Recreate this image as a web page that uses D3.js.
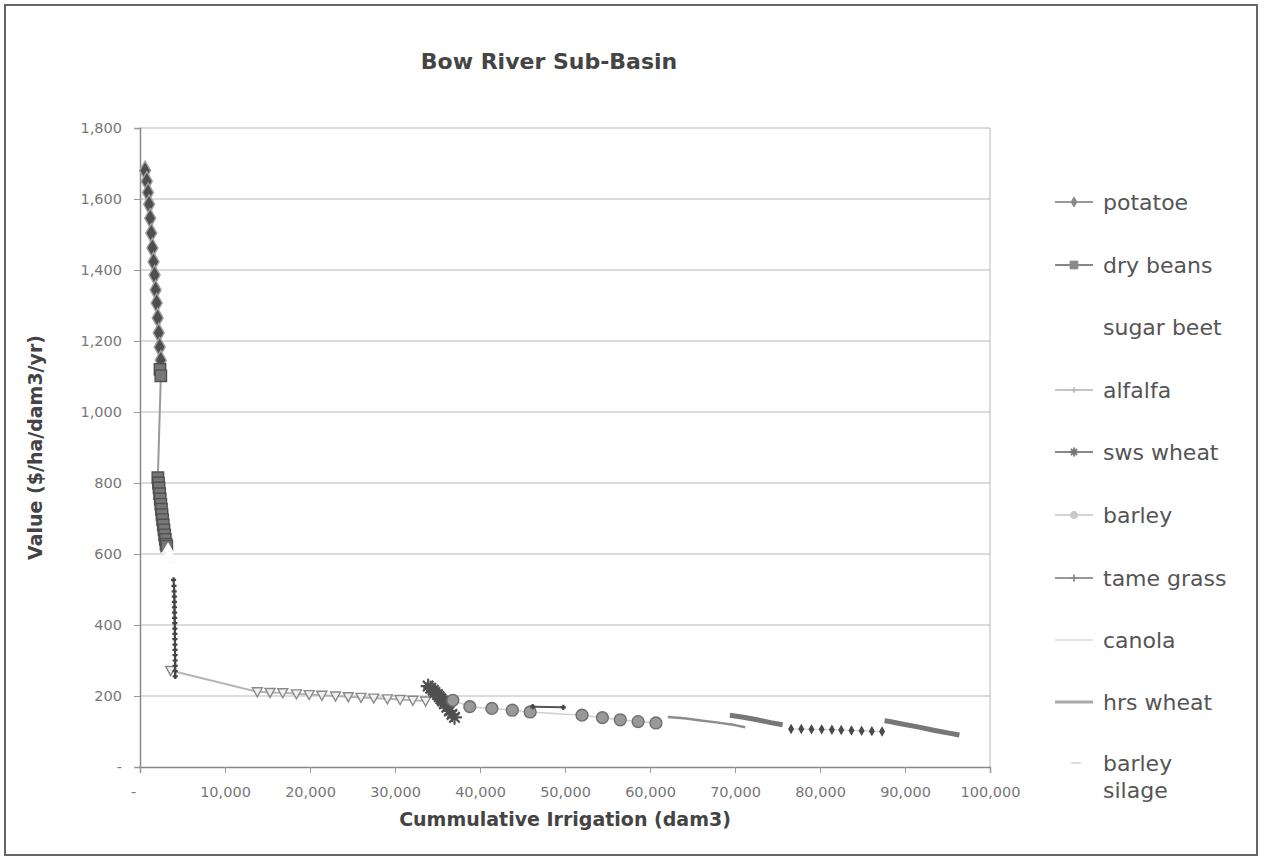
<!DOCTYPE html>
<html lang="en">
<head>
<meta charset="UTF-8">
<title>Bow River Sub-Basin</title>
<script src="https://cdnjs.cloudflare.com/ajax/libs/d3/7.8.5/d3.min.js"></script>
<style>
    body { margin: 0; padding: 0; background: #fff; }
    svg { display: block; }
    text { font-family: "DejaVu Sans", Verdana, sans-serif; }
</style>
</head>
<body>
<svg id="chart" width="1264" height="861"></svg>
<script>
// series names in legend order
const seriesNames = ["potatoe", "dry beans", "sugar beet", "alfalfa", "sws wheat",
                     "barley", "tame grass", "canola", "hrs wheat", "barley silage"];

// [cumulative irrigation (dam3), value ($/ha/dam3/yr)]; null = gap in the line
const potatoe = [[600,1680],[800,1650],[940,1618],[1070,1585],[1200,1546],[1330,1504],[1460,1462],
    [1590,1423],[1720,1386],[1840,1344],[1960,1307],[2080,1265],[2200,1223],[2320,1183],[2440,1146]];
const dryBeans = [[2350,1120],[2450,1102],[2100,815],[2170,800],[2240,786],[2310,770],[2380,755],
    [2450,740],[2520,726],[2590,711],[2660,697],[2740,682],[2820,668],[2900,654],[2980,641],[3060,628],[3150,622]];
const sugarBeet = [[3300,612],[3400,598],[3500,585]];
const alfalfa = [[3600,272],[13800,212],[15300,210],[16800,209],[18400,206],[19900,204],[21400,202],
    [23000,200],[24500,198],[26000,196],[27500,194],[29100,192],[30600,190],[32100,188],[33600,186]];
const swsWheat = [[33900,228],[34200,222],[34500,216],[34700,210],[35000,204],[35200,198],[35400,192],
    [35600,186],[35800,178],[36100,168],[36400,158],[36700,148],[37000,140]];
const barley = [[36800,188],[38800,170],[41400,165],[43800,160],[45900,155],
    [52000,146],[54400,139],[56500,133],[58600,128],[60700,124]];
const tameGrass = [[3950,527],[4000,510],[4020,495],[4040,480],[4050,465],[4060,450],[4070,435],
    [4080,420],[4090,405],[4100,390],[4105,375],[4110,360],[4115,345],[4120,330],[4125,315],[4130,300],
    [4135,285],[4140,270],[4145,255], null, [46200,170],[49800,168]];
const canola = [[62100,141],[64000,137],[66000,131],[68000,125],[70000,118],[71200,112]];
const hrsWheat = [[69400,146],[71000,140],[72600,133],[74200,125],[75600,119],
    null, [87600,130],[88200,128],[89500,122],[91500,113],[93500,103],[95500,94],[96400,90]];
const barleySilage = [[76600,107],[77800,107],[79000,106],[80200,106],[81400,105],[82500,104],
    [83700,103],[84900,102],[86100,101],[87300,100]];

const xTicks = [0, 10000, 20000, 30000, 40000, 50000, 60000, 70000, 80000, 90000, 100000];
const yTicks = [0, 200, 400, 600, 800, 1000, 1200, 1400, 1600, 1800];

const seriesData = [potatoe, dryBeans, sugarBeet, alfalfa, swsWheat, barley, tameGrass, canola, hrsWheat, barleySilage];

// look of each series (grayscale, as printed)
const styles = {
    "potatoe":      { line: "#b0b0b0", width: 3, marker: "diamond", size: 150, fill: "#4e4e4e", stroke: "#a0a0a0" },
    "dry beans":    { line: "#9a9a9a", width: 2, marker: "square", size: 130, fill: "#777", stroke: "#505050" },
    "sugar beet":   { line: "#fcfcfc", width: 1.5, marker: "triangle", size: 50, fill: "#fff", stroke: "#fcfcfc" },
    "alfalfa":      { line: "#b4b4b4", width: 2, marker: "vee", size: 100, fill: "#f0f0f0", stroke: "#8a8a8a" },
    "sws wheat":    { line: "#5a5a5a", width: 3, marker: "asterisk", size: 220, fill: "none", stroke: "#505050" },
    "barley":       { line: "#d0d0d0", width: 1.5, marker: "circle", size: 110, fill: "#999", stroke: "#6e6e6e" },
    "tame grass":   { line: "#555", width: 2, marker: "plus", size: 26, fill: "none", stroke: "#444" },
    "canola":       { line: "#8c8c8c", width: 2.5, marker: null },
    "hrs wheat":    { line: "#777", width: 5, marker: null },
    "barley silage":{ line: "#cfcfcf", width: 1, marker: "diamond", size: 24, fill: "#4a4a4a", stroke: "#4a4a4a" }
};

const legendLook = {
    "potatoe":      { line: "#999", marker: "diamond", size: 40, fill: "#888", stroke: "#888" },
    "dry beans":    { line: "#888", marker: "square", size: 60, fill: "#888", stroke: "#888" },
    "sugar beet":   { line: "none", marker: null },
    "alfalfa":      { line: "#c4c4c4", marker: "plus", size: 30, fill: "none", stroke: "#bbb" },
    "sws wheat":    { line: "#888", marker: "asterisk", size: 80, fill: "none", stroke: "#777" },
    "barley":       { line: "#d4d4d4", marker: "circle", size: 40, fill: "#c8c8c8", stroke: "#c8c8c8" },
    "tame grass":   { line: "#999", marker: "plus", size: 50, fill: "none", stroke: "#888" },
    "canola":       { line: "#e4e4e4", marker: null },
    "hrs wheat":    { line: "#aaa", width: 3, marker: null },
    "barley silage":{ line: "none", marker: "dash" }
};

const svg = d3.select("#chart");
const plot = { left: 140, right: 990, top: 128, bottom: 767 };

const x = d3.scaleLinear().domain([0, 100000]).range([plot.left, plot.right]);
const y = d3.scaleLinear().domain([0, 1800]).range([plot.bottom, plot.top]);

const fmt = d => d === 0 ? "-" : d3.format(",")(d);

// chart frame
svg.append("rect").attr("x", 5).attr("y", 5).attr("width", 1252).attr("height", 850)
    .attr("fill", "#fff").attr("stroke", "#666").attr("stroke-width", 2);

// title
svg.append("text").attr("x", 549).attr("y", 69).attr("text-anchor", "middle")
    .attr("font-size", 22).attr("font-weight", "bold").attr("fill", "#444")
    .text("Bow River Sub-Basin");

// gridlines
svg.append("g").selectAll("line").data(yTicks.filter(d => d > 0)).join("line")
    .attr("x1", plot.left).attr("x2", plot.right)
    .attr("y1", d => y(d)).attr("y2", d => y(d))
    .attr("stroke", "#b8b8b8").attr("stroke-width", 1.2);

// right border of plot area
svg.append("line").attr("x1", plot.right).attr("x2", plot.right)
    .attr("y1", plot.top).attr("y2", plot.bottom).attr("stroke", "#c4c4c4").attr("stroke-width", 1.2);

// axes
const yAxis = svg.append("g").attr("transform", `translate(${plot.left},0)`)
    .call(d3.axisLeft(y).tickValues(yTicks).tickFormat(fmt).tickSize(6).tickPadding(12));
const xAxis = svg.append("g").attr("transform", `translate(0,${plot.bottom})`)
    .call(d3.axisBottom(x).tickValues(xTicks).tickFormat(fmt).tickSize(6).tickPadding(14));

[yAxis, xAxis].forEach(g => {
    g.select(".domain").attr("stroke", "#888").attr("stroke-width", 1.5);
    g.selectAll(".tick line").attr("stroke", "#999");
    g.selectAll(".tick text").attr("fill", "#777").attr("font-size", 14.5)
        .attr("font-family", "'DejaVu Sans', Verdana, sans-serif");
});
xAxis.selectAll(".tick").filter(d => d === 0).select("text").attr("dx", -7);

// axis titles
svg.append("text").attr("x", 565).attr("y", 826).attr("text-anchor", "middle")
    .attr("font-size", 19).attr("font-weight", "bold").attr("fill", "#444")
    .text("Cummulative Irrigation (dam3)");
svg.append("text").attr("transform", `translate(42,${(plot.top + plot.bottom) / 2}) rotate(-90)`)
    .attr("text-anchor", "middle")
    .attr("font-size", 19).attr("font-weight", "bold").attr("fill", "#444")
    .text("Value ($/ha/dam3/yr)");

// marker shapes
function markerPath(kind, size) {
    const r = Math.sqrt(size) / 2;
    switch (kind) {
        case "diamond": return d3.symbol(d3.symbolDiamond, size * 0.7)();
        case "square": return d3.symbol(d3.symbolSquare, size)();
        case "triangle": return d3.symbol(d3.symbolTriangle, size)();
        case "circle": return d3.symbol(d3.symbolCircle, size)();
        case "vee": return `M${-r},${-r * 0.8}L0,${r}L${r},${-r * 0.8}Z`;
        case "plus": return `M${-r},0H${r}M0,${-r}V${r}`;
        case "asterisk": return `M${-r},0H${r}M0,${-r}V${r}M${-r * 0.7},${-r * 0.7}L${r * 0.7},${r * 0.7}M${-r * 0.7},${r * 0.7}L${r * 0.7},${-r * 0.7}`;
        case "dash": return `M${-r},0H${r}`;
    }
    return null;
}

const line = d3.line().defined(d => d !== null).x(d => x(d[0])).y(d => y(d[1]));

const plotG = svg.append("g");
seriesNames.forEach((name, i) => {
    const s = styles[name];
    const data = seriesData[i];
    const g = plotG.append("g").attr("class", "series");
    g.append("path").datum(data).attr("d", line)
        .attr("fill", "none").attr("stroke", s.line).attr("stroke-width", s.width)
        .attr("stroke-linejoin", "round");
    if (s.marker) {
        const p = markerPath(s.marker, s.size);
        const open = s.marker === "plus" || s.marker === "asterisk";
        g.selectAll("path.m").data(data.filter(d => d !== null)).join("path")
            .attr("class", "m")
            .attr("d", p)
            .attr("transform", d => `translate(${x(d[0])},${y(d[1])})`)
            .attr("fill", open ? "none" : s.fill)
            .attr("stroke", s.stroke)
            .attr("stroke-width", open ? 2.2 : 1.4);
    }
});

// legend
const legend = svg.append("g").attr("transform", "translate(1055,0)");
const legendY = [202, 265, 327, 390, 452, 515, 578, 640, 702, 763];
seriesNames.forEach((name, i) => {
    const L = legendLook[name];
    const cy = legendY[i];
    const g = legend.append("g").attr("transform", `translate(0,${cy})`);
    if (L.line !== "none") {
        g.append("line").attr("x1", 0).attr("x2", 38).attr("y1", 0).attr("y2", 0)
            .attr("stroke", L.line).attr("stroke-width", L.width || 2);
    }
    if (L.marker === "dash") {
        g.append("line").attr("x1", 16).attr("x2", 26).attr("stroke", "#ddd").attr("stroke-width", 2);
    } else if (L.marker) {
        const open = L.marker === "plus" || L.marker === "asterisk";
        g.append("path").attr("d", markerPath(L.marker, L.size)).attr("transform", "translate(19,0)")
            .attr("fill", open ? "none" : L.fill).attr("stroke", L.stroke).attr("stroke-width", open ? 1.8 : 1);
    }
    const t = g.append("text").attr("x", 48).attr("y", 0).attr("dy", "0.35em")
        .attr("font-size", 22).attr("fill", "#555");
    if (name === "barley silage") {
        t.append("tspan").attr("x", 48).text("barley");
        t.append("tspan").attr("x", 48).attr("dy", "1.22em").text("silage");
    } else {
        t.text(name);
    }
});
</script>
</body>
</html>
